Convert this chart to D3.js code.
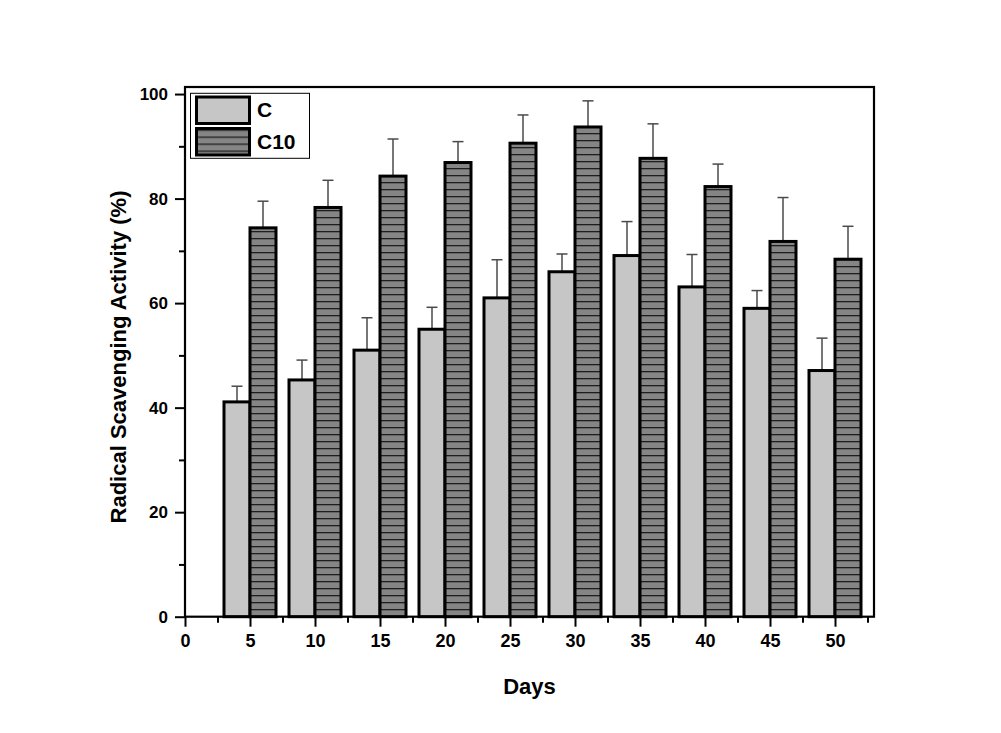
<!DOCTYPE html>
<html>
<head>
<meta charset="utf-8">
<script src="https://cdn.jsdelivr.net/npm/d3@7"></script>
<style>
  body { margin: 0; background: #fff; }
  text { font-family: "Liberation Sans", Arial, sans-serif; font-weight: bold; }
</style>
</head>
<body>
<script>
// data
var days = [5, 10, 15, 20, 25, 30, 35, 40, 45, 50];
var valC = [41.1, 45.3, 51.0, 55.0, 61.0, 66.0, 69.1, 63.1, 59.0, 47.1];
var errC = [3.0, 3.8, 6.2, 4.2, 7.3, 3.4, 6.5, 6.2, 3.4, 6.2];
var valC10 = [74.4, 78.3, 84.3, 86.9, 90.6, 93.7, 87.7, 82.3, 71.8, 68.4];
var errC10 = [5.1, 5.2, 7.1, 4.0, 5.4, 5.0, 6.6, 4.3, 8.4, 6.3];
var xTicks = [0, 5, 10, 15, 20, 25, 30, 35, 40, 45, 50];
var yTicks = [0, 20, 40, 60, 80, 100];
var seriesNames = ["C", "C10"];

// plot frame (not "top": that name is taken by window.top)
var plotL = 185, plotR = 874, plotT = 87, plotB = 616.7;

var svg = d3.select("body").append("svg")
  .attr("width", 1001)
  .attr("height", 733)
  .style("background", "#fff");

var x = d3.scaleLinear().domain([0, 53]).range([plotL, plotR]);
var y = d3.scaleLinear().domain([0, 101.35]).range([plotB, plotT]);

// horizontal stripe fill for C10
var defs = svg.append("defs");
var pat = defs.append("pattern")
  .attr("id", "stripes")
  .attr("patternUnits", "userSpaceOnUse")
  .attr("width", 10)
  .attr("height", 7);
pat.append("rect").attr("width", 10).attr("height", 7).attr("fill", "#858585");
pat.append("rect").attr("y", 0).attr("width", 10).attr("height", 1.3).attr("fill", "#1e1e1e");

var fills = ["#c6c6c6", "url(#stripes)"];

// bars: C from day-2 to day, C10 from day to day+2
var bars = [];
days.forEach(function (d, i) {
  bars.push({ x0: d - 2, x1: d, v: valC[i], e: errC[i], s: 0 });
  bars.push({ x0: d, x1: d + 2, v: valC10[i], e: errC10[i], s: 1 });
});

// error bars first (only the upper half shows)
var eb = svg.append("g").attr("stroke", "#4a4a4a").attr("stroke-width", 1.5);
bars.forEach(function (b) {
  var cx = x((b.x0 + b.x1) / 2);
  eb.append("line").attr("x1", cx).attr("x2", cx).attr("y1", y(b.v)).attr("y2", y(b.v + b.e));
  eb.append("line").attr("x1", cx - 5.5).attr("x2", cx + 5.5).attr("y1", y(b.v + b.e)).attr("y2", y(b.v + b.e));
});

svg.append("g").selectAll("rect")
  .data(bars)
  .enter().append("rect")
  .attr("x", function (d) { return x(d.x0); })
  .attr("y", function (d) { return y(d.v); })
  .attr("width", function (d) { return x(d.x1) - x(d.x0); })
  .attr("height", function (d) { return y(0) - y(d.v); })
  .attr("fill", function (d) { return fills[d.s]; })
  .attr("stroke", "#000")
  .attr("stroke-width", 3);

// axes
var xAxis = svg.append("g")
  .attr("transform", "translate(0," + plotB + ")")
  .call(d3.axisBottom(x).tickValues(xTicks).tickSize(10).tickPadding(8).tickFormat(d3.format("d")));
xAxis.selectAll(".tick line").attr("stroke-width", 2);
xAxis.selectAll("text").style("font-size", "18px").attr("fill", "#000");

var xMinor = svg.append("g")
  .attr("transform", "translate(0," + plotB + ")")
  .call(d3.axisBottom(x).tickValues(d3.range(2.5, 53, 5)).tickSize(6).tickFormat(""));
xMinor.selectAll(".tick line").attr("stroke-width", 2);

var yAxis = svg.append("g")
  .attr("transform", "translate(" + plotL + ",0)")
  .call(d3.axisLeft(y).tickValues(yTicks).tickSize(10).tickPadding(7));
yAxis.selectAll(".tick line").attr("stroke-width", 2);
yAxis.selectAll("text").style("font-size", "17px").attr("fill", "#000");

var yMinor = svg.append("g")
  .attr("transform", "translate(" + plotL + ",0)")
  .call(d3.axisLeft(y).tickValues(d3.range(10, 100, 20)).tickSize(6).tickFormat(""));
yMinor.selectAll(".tick line").attr("stroke-width", 2);

svg.selectAll(".domain").remove();

// frame
svg.append("rect")
  .attr("x", plotL).attr("y", plotT)
  .attr("width", plotR - plotL).attr("height", plotB - plotT)
  .attr("fill", "none").attr("stroke", "#000").attr("stroke-width", 2.2);

// axis titles
svg.append("text")
  .attr("x", (plotL + plotR) / 2)
  .attr("y", 694)
  .attr("text-anchor", "middle")
  .style("font-size", "22px")
  .text("Days");

svg.append("text")
  .attr("transform", "translate(126," + 357 + ") rotate(-90)")
  .attr("text-anchor", "middle")
  .style("font-size", "22px")
  .text("Radical Scavenging Activity (%)");

// legend
var lg = svg.append("g");
lg.append("rect")
  .attr("x", 190.5).attr("y", 93.3).attr("width", 119).attr("height", 65)
  .attr("fill", "#fff").attr("stroke", "#000").attr("stroke-width", 1);

var item = lg.selectAll("g.item")
  .data(seriesNames)
  .enter().append("g")
  .attr("class", "item")
  .attr("transform", function (d, i) { return "translate(0," + i * 31.5 + ")"; });

item.append("rect")
  .attr("x", 196.5).attr("y", 97)
  .attr("width", 53).attr("height", 26.5)
  .attr("fill", function (d, i) { return fills[i]; })
  .attr("stroke", "#000").attr("stroke-width", 3);

item.append("text")
  .attr("x", 257)
  .attr("y", 117)
  .style("font-size", "21px")
  .text(function (d) { return d; });
</script>
</body>
</html>
